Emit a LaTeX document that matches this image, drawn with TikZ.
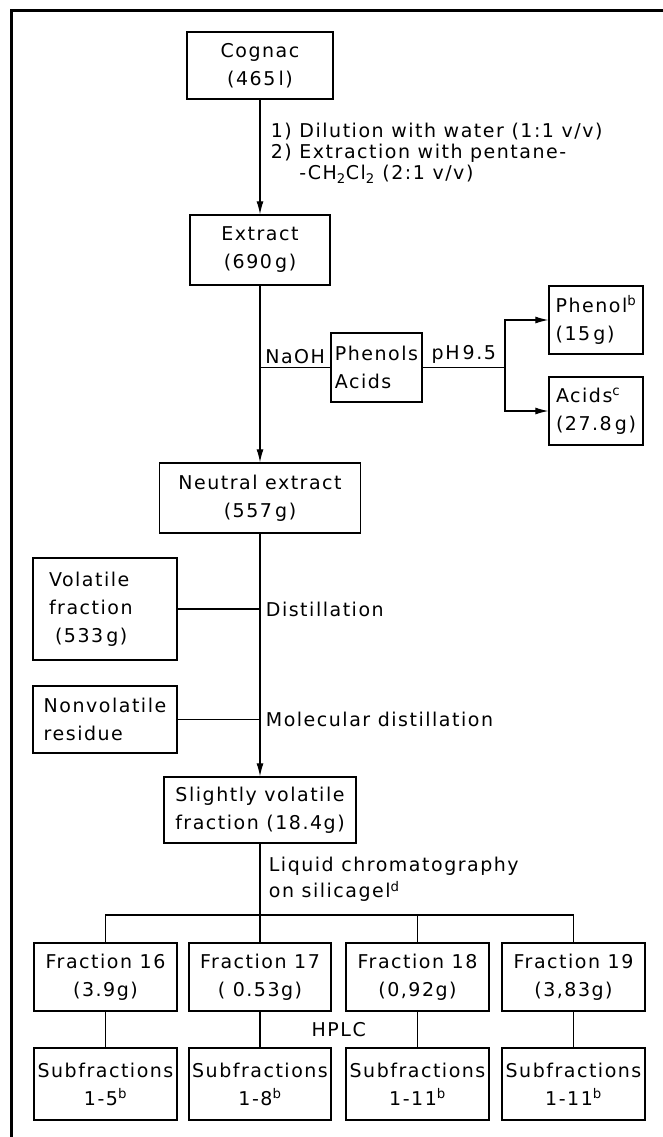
\documentclass[tikz,border=0pt]{standalone}
\usepackage{fontspec}
\setmainfont{DejaVu Sans}[LetterSpace=8]
\usetikzlibrary{arrows.meta,calc}

\tikzset{
  box/.style={draw, line width=1.4pt, align=center, inner sep=0pt},
  flow/.style={line width=1.1pt, -{Latex[length=13pt,width=7pt]}},
  link/.style={line width=1.1pt},
  note/.style={align=left, font=\fontsize{19}{21}\selectfont},
}

\begin{document}
\begin{tikzpicture}[x=1pt,y=-1pt,font=\fontsize{19}{28}\selectfont]
\useasboundingbox (0,0) rectangle (663,1137);
\draw[line width=3pt] (11,1137) -- (11,11) -- (663,11);

% main column
\node[box, minimum width=146pt, minimum height=67pt] (cognac) at (260,65.5) {Cognac\\(465\,l)};
\node[box, minimum width=140pt, minimum height=70pt] (extract) at (260,250) {Extract\\(690\,g)};
\node[box, minimum width=201pt, minimum height=70pt] (neutral) at (260,498) {Neutral extract\\(557\,g)};
\node[box, minimum width=192pt, minimum height=66pt] (slightly) at (260,810) {Slightly volatile\\fraction (18.4g)};

% side products
\node[box, minimum width=91pt, minimum height=69pt, align=left] (phac) at (376.5,367.5) {Phenols\\Acids};
\node[box, minimum width=94pt, minimum height=68pt, align=left] (phenol) at (596,320) {Phenol\textsuperscript{b}\\(15\,g)};
\node[box, minimum width=94pt, minimum height=68pt, align=left] (acids) at (596,411) {Acids\textsuperscript{c}\\(27.8\,g)};
\node[box, minimum width=144pt, minimum height=102pt, align=left, text width=112pt] (volatile) at (105,609) {Volatile\\fraction\\\hspace{6pt}(533\,g)};
\node[box, minimum width=144pt, minimum height=67pt, align=left] (nonvol) at (105,719.5) {Nonvolatile\\residue};

% fractions
\node[box, minimum width=143pt, minimum height=68pt] (f16) at (105.5,977) {Fraction 16\\(3.9g)};
\node[box, minimum width=142pt, minimum height=68pt] (f17) at (260,977) {Fraction 17\\( 0.53g)};
\node[box, minimum width=143pt, minimum height=68pt] (f18) at (417.5,977) {Fraction 18\\(0,92g)};
\node[box, minimum width=143pt, minimum height=68pt] (f19) at (573.5,977) {Fraction 19\\(3,83g)};
\node[box, minimum width=143pt, minimum height=72pt] (s16) at (105.5,1084) {Subfractions\\1-5\textsuperscript{b}};
\node[box, minimum width=142pt, minimum height=72pt] (s17) at (260,1084) {Subfractions\\1-8\textsuperscript{b}};
\node[box, minimum width=143pt, minimum height=72pt] (s18) at (417.5,1084) {Subfractions\\1-11\textsuperscript{b}};
\node[box, minimum width=143pt, minimum height=72pt] (s19) at (573.5,1084) {Subfractions\\1-11\textsuperscript{b}};

\coordinate (split) at (505,367.5);
\coordinate (bus) at (260,915);

% connectors
\draw[flow] (cognac) -- node[right, note, xshift=7pt, yshift=4pt]
  {1) Dilution with water (1:1 v/v)\\2) Extraction with pentane-\\\phantom{2) }-CH\textsubscript{2}Cl\textsubscript{2} (2:1 v/v)} (extract);
\draw[flow] (extract) -- (neutral);
\draw[link] (extract.south |- phac.west) -- node[above] {NaOH} (phac.west);
\draw[link] (phac.east) -- node[above] {pH\,9.5} (split);
\draw[flow] (split) |- (phenol.west);
\draw[flow] (split) |- (acids.west);
\draw[link] (volatile.east) -- (volatile.east -| neutral.south) node[right, xshift=2pt] {Distillation};
\draw[link] (nonvol.east) -- (nonvol.east -| neutral.south) node[right, xshift=2pt] {Molecular distillation};
\draw[flow] (neutral) -- (slightly);
\draw[link] (slightly) -- node[right, align=left, xshift=5pt, font=\fontsize{19}{26}\selectfont]
  {Liquid chromatography\\on silicagel\textsuperscript{d}} (bus);
\draw[link] (f16.north) |- (bus) -- (f19.north |- bus) -- (f19.north);
\draw[link] (bus) -- (f17.north);
\draw[link] (f18.north) -- (f18.north |- bus);
\draw[link] (f16) -- (s16);
\draw[link] (f17) -- (s17);
\draw[link] (f18) -- (s18);
\draw[link] (f19) -- (s19);
\node (hplc) at ($(f17.south)!0.5!(s18.north)$) {HPLC};
\end{tikzpicture}
\end{document}
